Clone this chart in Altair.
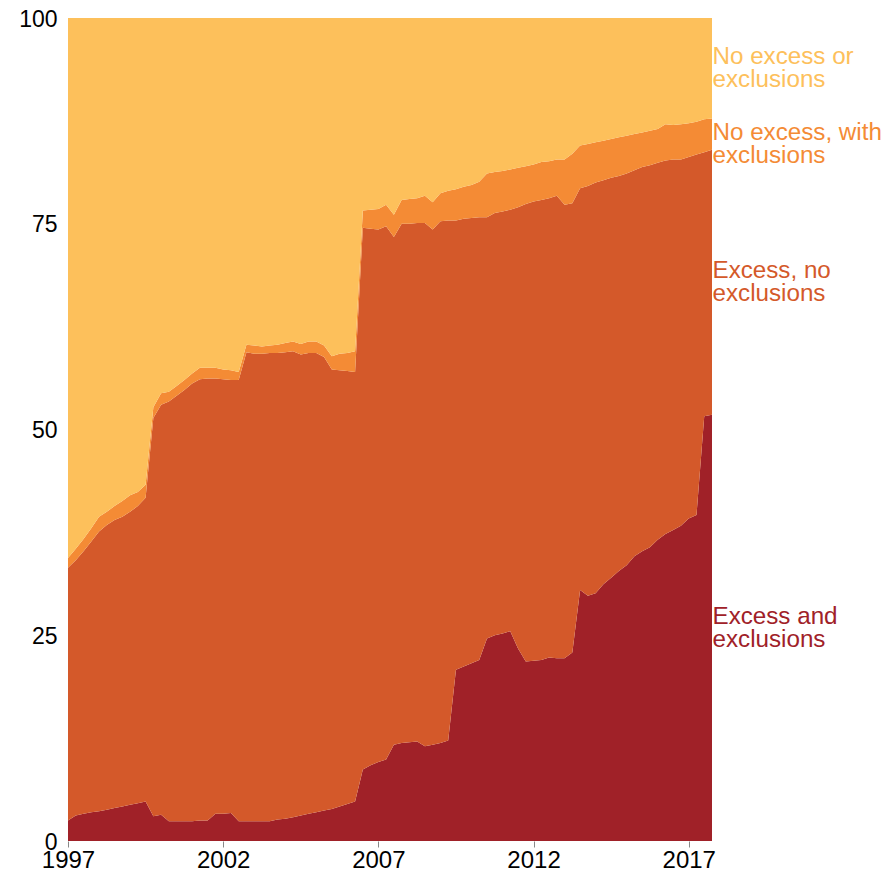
import altair as alt
import pandas as pd

# Quarterly observations, 1997 Q1 .. 2017 Q4
quarters = [1997 + i * 0.25 for i in range(84)]

excess_and_exclusions = [
    2.5, 3.1, 3.3, 3.5, 3.6, 3.8, 4.0, 4.2, 4.4, 4.6,
    4.8, 3.0, 3.2, 2.4, 2.4, 2.4, 2.4, 2.5, 2.5, 3.3,
    3.3, 3.4, 2.4, 2.4, 2.4, 2.4, 2.4, 2.6, 2.7,
    2.9, 3.1, 3.3, 3.5, 3.7, 3.9, 4.2, 4.5, 4.8, 8.7,
    9.2, 9.6, 9.9, 11.7, 11.9, 12.0, 12.1, 11.5, 11.7, 11.9,
    12.2, 20.8, 21.2, 21.6, 22.0, 24.6, 25.0, 25.2, 25.5, 23.4,
    21.8, 21.9, 22.0, 22.3, 22.2, 22.2, 22.9, 30.5, 29.8,
    30.1, 31.2, 32.0, 32.8, 33.5, 34.6, 35.2, 35.7, 36.6, 37.3,
    37.8, 38.3, 39.2, 39.6, 51.6, 51.8,
]
excess_no_exclusions = [
    30.7, 31.0, 31.9, 32.9, 34.0, 34.6, 35.0, 35.2, 35.6, 36.1,
    36.9, 48.4, 49.8, 51.0, 51.7, 52.4, 53.2, 53.6, 53.7, 52.9,
    52.8, 52.6, 53.6, 57.0, 56.8, 56.8, 56.9, 56.7, 56.7,
    56.6, 56.0, 56.0, 55.8, 55.1, 53.4, 53.0, 52.6, 52.2, 65.8,
    65.2, 64.7, 64.8, 61.7, 63.1, 63.0, 63.0, 63.6, 62.6, 63.4,
    63.2, 54.6, 54.4, 54.1, 53.8, 51.2, 51.3, 51.3, 51.2, 53.6,
    55.6, 55.8, 55.9, 55.8, 56.2, 55.1, 54.6, 48.8, 49.8,
    49.9, 49.1, 48.6, 48.0, 47.6, 46.9, 46.7, 46.4, 45.8, 45.4,
    45.0, 44.5, 43.9, 43.8, 32.1, 32.2,
]
no_excess_with_exclusions = [
    1.2, 1.4, 1.5, 1.6, 1.8, 1.6, 1.7, 1.9, 2.0, 1.7,
    1.6, 1.3, 1.4, 1.2, 1.2, 1.2, 1.2, 1.4, 1.3, 1.3,
    1.2, 1.2, 1.0, 0.9, 1.0, 0.9, 0.9, 1.0, 1.1,
    1.2, 1.3, 1.4, 1.4, 1.4, 1.6, 2.0, 2.2, 2.5, 2.1,
    2.3, 2.5, 2.6, 2.7, 2.9, 3.0, 3.0, 3.3, 3.3, 3.4,
    3.6, 3.8, 3.9, 4.0, 4.3, 5.3, 5.0, 4.9, 4.9, 4.8,
    4.6, 4.5, 4.6, 4.5, 4.4, 5.5, 6.0, 5.2, 5.1,
    4.9, 4.8, 4.7, 4.7, 4.6, 4.4, 4.2, 4.2, 4.1, 4.4,
    4.2, 4.3, 4.1, 4.0, 4.0, 3.8,
]
no_excess_or_exclusions = [
    65.6, 64.5, 63.3, 62.0, 60.6, 60.0, 59.3, 58.7, 58.0, 57.6,
    56.7, 47.3, 45.6, 45.4, 44.7, 44.0, 43.2, 42.5, 42.5, 42.5,
    42.7, 42.8, 43.0, 39.7, 39.8, 39.9, 39.8, 39.7, 39.5,
    39.3, 39.6, 39.3, 39.3, 39.8, 41.1, 40.8, 40.7, 40.5, 23.4,
    23.3, 23.2, 22.7, 23.9, 22.1, 22.0, 21.9, 21.6, 22.4, 21.3,
    21.0, 20.8, 20.5, 20.3, 19.9, 18.9, 18.7, 18.6, 18.4, 18.2,
    18.0, 17.8, 17.5, 17.4, 17.2, 17.2, 16.5, 15.5, 15.3,
    15.1, 14.9, 14.7, 14.5, 14.3, 14.1, 13.9, 13.7, 13.5, 12.9,
    13.0, 12.9, 12.8, 12.6, 12.3, 12.2,
]

series_names = [
    "Excess and exclusions",
    "Excess, no exclusions",
    "No excess, with exclusions",
    "No excess or exclusions",
]
series_values = [
    excess_and_exclusions,
    excess_no_exclusions,
    no_excess_with_exclusions,
    no_excess_or_exclusions,
]
series_colors = ["#a02128", "#d4592a", "#f48b35", "#fdc05b"]
label_lines = [
    ["Excess and", "exclusions"],
    ["Excess, no", "exclusions"],
    ["No excess, with", "exclusions"],
    ["No excess or", "exclusions"],
]
x_ticks = [1997, 2002, 2007, 2012, 2017]
y_ticks = [0, 25, 50, 75, 100]

FONT = "Liberation Sans"

rows = []
for k, (name, vals) in enumerate(zip(series_names, series_values)):
    for yr, v in zip(quarters, vals):
        rows.append({"year": yr, "value": v, "series": name, "order": k})
df = pd.DataFrame(rows)

# label anchors: middle of each band at the last quarter
lab_rows = []
base = 0.0
for k, (name, vals) in enumerate(zip(series_names, series_values)):
    last = vals[-1]
    lab_rows.append({"series": name, "text": label_lines[k],
                     "year": quarters[-1], "mid": base + last / 2})
    base += last
labels = pd.DataFrame(lab_rows)

color = alt.Color("series:N",
                  scale=alt.Scale(domain=series_names, range=series_colors),
                  legend=None)

x_enc = alt.X("year:Q",
              scale=alt.Scale(domain=[1997, quarters[-1]], nice=False, zero=False),
              axis=alt.Axis(values=x_ticks, format="d", title=None, grid=False,
                            domain=False, ticks=True, tickColor="#888888",
                            tickSize=6, tickWidth=1, labelFontSize=24,
                            labelColor="#000000", labelFont=FONT,
                            labelPadding=1, labelFlush=False,
                            labelOverlap=False))
y_enc = alt.Y("value:Q", stack="zero",
              scale=alt.Scale(domain=[0, 100], nice=False),
              axis=alt.Axis(values=y_ticks, title=None, grid=False,
                            domain=False, ticks=False, tickSize=0,
                            labelPadding=11, labelFontSize=23, labelOffset=1,
                            labelColor="#000000", labelFont=FONT))

area = alt.Chart(df).mark_area(interpolate="linear").encode(
    x=x_enc,
    y=y_enc,
    color=color,
    order=alt.Order("order:Q"),
)

text_base = alt.Chart(labels).encode(
    x=alt.X("year:Q"),
    y=alt.Y("mid:Q"),
    text=alt.Text("text"),
    color=color,
)
text_main = text_base.transform_filter(
    alt.datum.series != "No excess, with exclusions"
).mark_text(align="left", baseline="middle", dx=0.5, dy=-11, fontSize=24.2,
            lineHeight=23, font=FONT)
text_nudged = text_base.transform_filter(
    alt.datum.series == "No excess, with exclusions"
).mark_text(align="left", baseline="middle", dx=0.5, dy=-1, fontSize=24.2,
            lineHeight=23, font=FONT)

chart = alt.layer(area, text_main, text_nudged).properties(
    width=644,
    height=823,
    autosize=alt.AutoSizeParams(type="none"),
    padding={"left": 60, "top": 10, "right": 170, "bottom": 30},
).configure_view(stroke=None)

chart.save("out.html", embed_options={"renderer": "svg", "actions": False})
